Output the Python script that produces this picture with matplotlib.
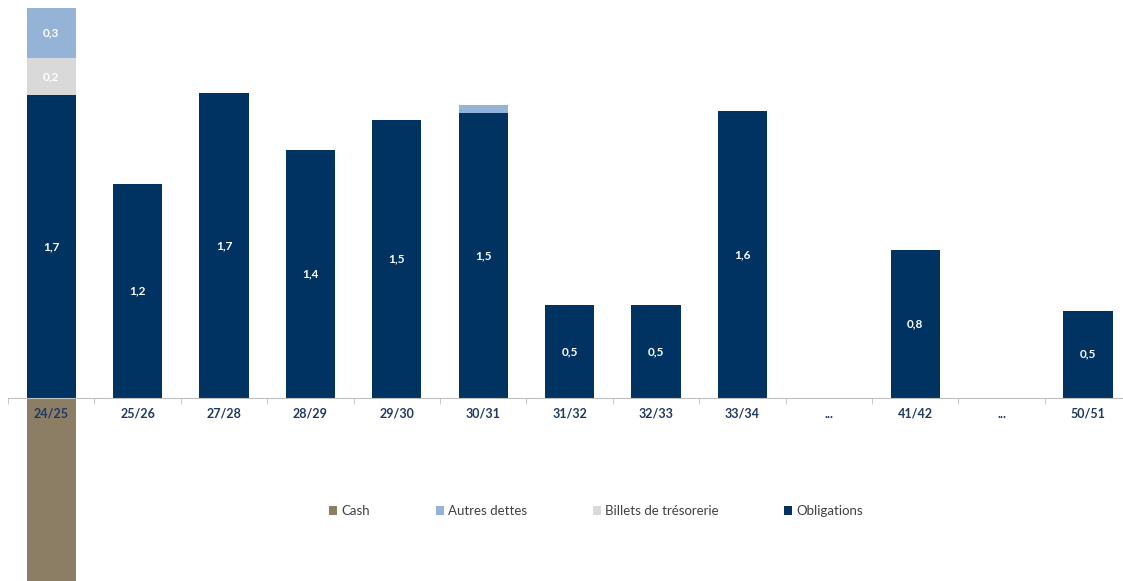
import numpy as np
import matplotlib.pyplot as plt

categories = ["24/25", "25/26", "27/28", "28/29", "29/30", "30/31", "31/32",
              "32/33", "33/34", "...", "41/42", "...", "50/51"]
obligations = [1.70, 1.20, 1.71, 1.39, 1.56, 1.60, 0.52, 0.52, 1.61, 0, 0.83, 0, 0.49]
billets = [0.21, 0, 0, 0, 0, 0, 0, 0, 0, 0, 0, 0, 0]
autres = [0.28, 0, 0, 0, 0, 0.045, 0, 0, 0, 0, 0, 0, 0]
cash = [-1.2, 0, 0, 0, 0, 0, 0, 0, 0, 0, 0, 0, 0]

lbl_obligations = ["1,7", "1,2", "1,7", "1,4", "1,5", "1,5", "0,5", "0,5", "1,6", "", "0,8", "", "0,5"]
lbl_billets = ["0,2"] + [""] * 12
lbl_autres = ["0,3"] + [""] * 12

c_cash = "#8C7E64"
c_autres = "#95B3D7"
c_billets = "#D9D9D9"
c_oblig = "#003262"
navy = "#1F3864"

plt.rcParams["font.family"] = ["Lato", "DejaVu Sans"]

fig = plt.figure(figsize=(11.23, 5.81), dpi=100)
ax = fig.add_axes([8 / 1123, 0, 1 - 8 / 1123, 1])

x = np.arange(len(categories))
ob = np.array(obligations)
bi = np.array(billets)
au = np.array(autres)
w = 0.57

b1 = ax.bar(x, ob, w, color=c_oblig, label="Obligations")
b2 = ax.bar(x, bi, w, bottom=ob, color=c_billets, label="Billets de trésorerie")
b3 = ax.bar(x, au, w, bottom=ob + bi, color=c_autres, label="Autres dettes")
b4 = ax.bar(x, cash, w, color=c_cash, label="Cash")

for bars, vals, bottoms, labels in [(b1, ob, 0 * ob, lbl_obligations),
                                    (b2, bi, ob, lbl_billets),
                                    (b3, au, ob + bi, lbl_autres)]:
    for i, t in enumerate(labels):
        if t:
            ax.text(x[i], bottoms[i] + vals[i] / 2, t, ha="center", va="center",
                    color="white", fontsize=8.5, fontweight="bold")

for s in ["top", "right", "left"]:
    ax.spines[s].set_visible(False)
ax.spines["bottom"].set_position(("data", 0))
ax.spines["bottom"].set_color("#BFBFBF")
ax.set_yticks([])
ax.set_xticks(x)
ax.set_xticklabels(categories, fontsize=9, fontweight="bold", color=navy)
ax.set_xticks(np.arange(-0.5, len(categories), 1), minor=True)
ax.tick_params(axis="x", which="major", length=0, pad=7)
ax.tick_params(axis="x", which="minor", length=4, color="#BFBFBF")
ax.set_zorder(1)

# limits after the ticks, set_xticks would widen them
ax.set_xlim(-0.5, -0.5 + 1115 / 86.4)
ax.set_ylim(-183 / 178.2, 398 / 178.2)

handles = [b4, b3, b2, b1]
fig.legend(handles, [h.get_label() for h in handles], loc="center",
           bbox_to_anchor=(596 / 1123, 1 - 511 / 581), ncol=4, frameon=False,
           fontsize=9.5, handlelength=0.6, handleheight=0.6, handletextpad=0.3,
           columnspacing=5.0, labelcolor="#404040")

fig.savefig("out.png", dpi=100)
